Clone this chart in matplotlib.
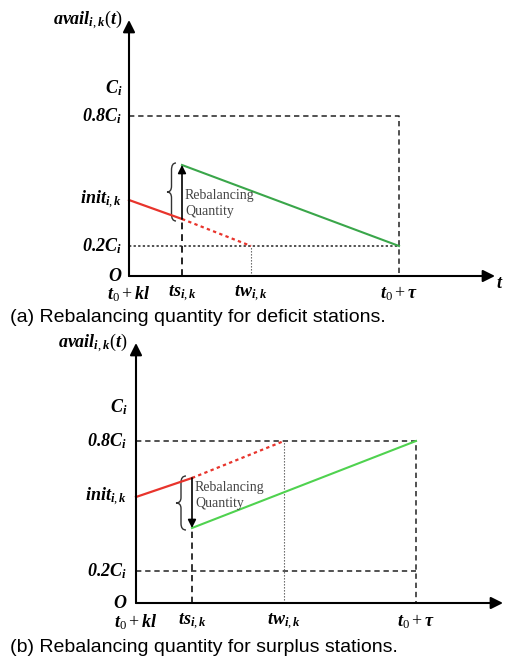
import matplotlib
matplotlib.use("Agg")
import matplotlib.pyplot as plt
from matplotlib.path import Path
from matplotlib.patches import PathPatch

plt.rcParams['mathtext.fontset'] = 'custom'
plt.rcParams['mathtext.it'] = 'Liberation Serif:italic:bold'
plt.rcParams['mathtext.rm'] = 'Liberation Serif'
plt.rcParams['mathtext.bf'] = 'Liberation Serif:bold'
plt.rcParams['mathtext.sf'] = 'Liberation Serif:italic:bold'

# ---------------- data (schematic units) ----------------
x_labels = [r'$t_0+kl$', r'$ts_{i,k}$', r'$tw_{i,k}$', r'$t_0+\tau$']
y_labels = [r'$O$', r'$\mathsf{0.2}C_i$', r'$init_{i,k}$', r'$\mathsf{0.8}C_i$', r'$C_i$']

# panel (a): deficit station
xa = [0, 53, 122, 270]             # t0+kl, ts, tw, t0+tau
ya = [0, 30, 76, 160, 188]         # O, 0.2C, init, 0.8C, C
red_a_ts = 57                      # level at ts before rebalancing
green_a_ts = 111                   # level at ts after rebalancing
green_a_end = 30
red_a_end = 30
axis_a = (366, 256)

# panel (b): surplus station
xb = [0, 56, 148, 280]
yb = [0, 32, 106, 162, 196]
red_b_ts = 125
green_b_ts = 75
green_b_end = 162
red_b_end = 162
axis_b = (367, 260)

W, H = 507, 660
fig = plt.figure(figsize=(W / 100, H / 100), dpi=100)


def make_ax(top, bottom, ox, oy):
    ax = fig.add_axes([0, (H - bottom) / H, 1, (bottom - top) / H])
    ax.set_xlim(-ox, W - ox)
    ax.set_ylim(oy - bottom, oy - top)
    ax.axis('off')
    return ax


def brace(ax, x, y0, y1, w, **kw):
    h = y1 - y0
    ym = (y0 + y1) / 2
    xm = x - w / 2
    xt = x - w
    verts = [(x, y0), (xm, y0), (xm, y0 + 0.12 * h),
             (xm, ym - 0.1 * h),
             (xm, ym), (xt, ym),
             (xm, ym), (xm, ym + 0.1 * h),
             (xm, y1 - 0.12 * h),
             (xm, y1), (x, y1)]
    codes = [Path.MOVETO, Path.CURVE3, Path.CURVE3, Path.LINETO,
             Path.CURVE3, Path.CURVE3, Path.CURVE3, Path.CURVE3,
             Path.LINETO, Path.CURVE3, Path.CURVE3]
    ax.add_patch(PathPatch(Path(verts, codes), fill=False, **kw))


def arrow(ax, p0, p1, lw=1.5, ms=16):
    ax.annotate('', xy=p1, xytext=p0,
                arrowprops=dict(arrowstyle='-|>', color='black', lw=lw,
                                mutation_scale=ms, shrinkA=0, shrinkB=0))


lab_fs = 13
k_dash = dict(color='#222222', lw=1.1, ls=(0, (3.5, 2.5)))
k_dot = dict(color='#222222', lw=1.1, ls=(0, (1.5, 1.5)))
thin_dot = dict(color='#555555', lw=0.8, ls=(0, (1.2, 1.5)))
RED = '#e8342c'

# ================= panel (a) =================
ax = make_ax(0, 310, 129, 276)
arrow(ax, (0, 0), (0, axis_a[1]), lw=1.5, ms=18)
arrow(ax, (0, 0), (axis_a[0], 0), lw=1.5, ms=18)
ax.plot([0, xa[3], xa[3]], [ya[3], ya[3], 0], **k_dash)
ax.plot([0, xa[3]], [ya[1], ya[1]], **k_dot)
ax.plot([xa[1], xa[1]], [0, red_a_ts], color='#222222', lw=1.4, ls=(0, (3.5, 2.5)))
ax.plot([xa[2], xa[2]], [0, ya[1]], **thin_dot)
ax.plot([0, xa[1]], [ya[2], red_a_ts], color=RED, lw=1.6)
ax.plot([xa[1], xa[2]], [red_a_ts, red_a_end], color=RED, lw=1.6, ls=(0, (1.5, 1.5)))
ax.plot([xa[1], xa[3]], [green_a_ts, green_a_end], color='#3aa64a', lw=1.5)
arrow(ax, (xa[1], red_a_ts), (xa[1], green_a_ts), lw=1.2, ms=12)
brace(ax, xa[1] - 6, red_a_ts - 2, green_a_ts + 2, 9, color='#333333', lw=1.0)
ax.text(xa[1] + 3, red_a_ts + 15, 'Rebalancing\nQuantity',
        family='Liberation Serif', fontsize=10, color='#444444',
        ha='left', va='center', linespacing=1.3)
for v, s in zip(ya, y_labels):
    ax.text(-7, v, s, fontsize=lab_fs, ha='right', va='center')
for v, s in zip(xa, x_labels):
    ax.text(v, -18, s, fontsize=lab_fs, ha='center', va='center')
ax.text(-6, axis_a[1], r'$avail_{i,k}(t)$', fontsize=lab_fs, ha='right', va='center')
ax.text(axis_a[0] + 5, -7, r'$t$', fontsize=lab_fs, ha='center', va='center')

# ================= panel (b) =================
ax = make_ax(325, 640, 136, 603)
arrow(ax, (0, 0), (0, axis_b[1]), lw=1.5, ms=18)
arrow(ax, (0, 0), (axis_b[0], 0), lw=1.5, ms=18)
ax.plot([0, xb[3], xb[3]], [yb[3], yb[3], 0], **k_dash)
ax.plot([0, xb[3]], [yb[1], yb[1]], **k_dash)
ax.plot([xb[1], xb[1]], [0, green_b_ts], color='#222222', lw=1.3, ls=(0, (3.5, 2.5)))
ax.plot([xb[2], xb[2]], [0, yb[3]], **thin_dot)
ax.plot([0, xb[1]], [yb[2], red_b_ts], color=RED, lw=1.6)
ax.plot([xb[1], xb[2]], [red_b_ts, red_b_end], color=RED, lw=1.6, ls=(0, (1.5, 1.5)))
ax.plot([xb[1], xb[3]], [green_b_ts, green_b_end], color='#4fd24f', lw=1.5)
arrow(ax, (xb[1], red_b_ts), (xb[1], green_b_ts), lw=1.2, ms=12)
brace(ax, xb[1] - 6, green_b_ts - 2, red_b_ts + 2, 10, color='#333333', lw=1.0)
ax.text(xb[1] + 3, (red_b_ts + green_b_ts) / 2 + 8, 'Rebalancing\nQuantity',
        family='Liberation Serif', fontsize=10, color='#444444',
        ha='left', va='center', linespacing=1.3)
for v, s in zip(yb, y_labels):
    ax.text(-9, v, s, fontsize=lab_fs, ha='right', va='center')
for v, s in zip(xb, x_labels):
    ax.text(v, -19, s, fontsize=lab_fs, ha='center', va='center')
ax.text(-8, axis_b[1], r'$avail_{i,k}(t)$', fontsize=lab_fs, ha='right', va='center')

# captions
fig.text(10 / W, 1 - 318 / H, '(a) Rebalancing quantity for deficit stations.',
         family='Liberation Sans', fontsize=14, ha='left', va='center')
fig.text(10 / W, 1 - 648 / H, '(b) Rebalancing quantity for surplus stations.',
         family='Liberation Sans', fontsize=14, ha='left', va='center')

fig.savefig('out.png', dpi=100, facecolor='white')
